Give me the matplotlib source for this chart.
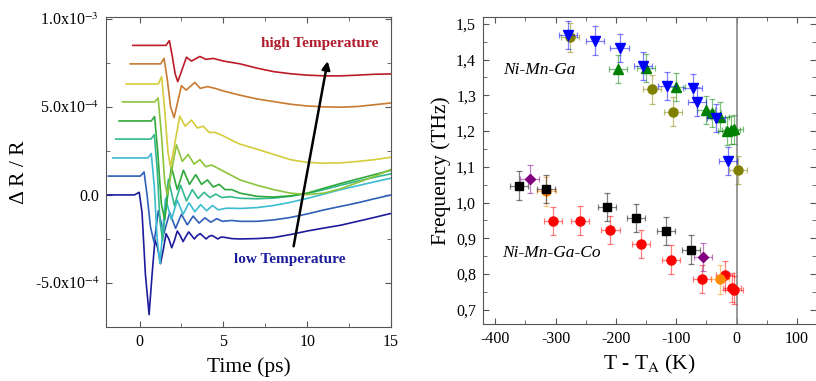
import matplotlib
matplotlib.use('Agg')
import matplotlib.pyplot as plt
from matplotlib.ticker import MultipleLocator, FixedLocator, FixedFormatter

plt.rcParams['font.family'] = ['Liberation Serif', 'DejaVu Serif']
plt.rcParams['mathtext.fontset'] = 'stix'
plt.rcParams['axes.unicode_minus'] = False

# ---- left panel: transient reflectivity traces (values in units of 1e-4) ----
trace_colors = ['#1c1c9c', '#2f5fb8', '#3cbcd0', '#34b890', '#2ea83a',
                '#8cc43c', '#d4cc3c', '#c87a30', '#bc1c28']

t_navy = [-2, -0.3, -0.02, 0.15, 0.35, 0.57, 0.75, 0.92, 1.08, 1.25, 1.42, 1.58, 1.75, 1.92,
          2.08, 2.25, 2.42, 2.6, 2.77, 2.93, 3.1, 3.27, 3.45, 3.62, 3.8, 3.97, 4.15, 4.32,
          4.5, 4.67, 4.85, 5.02, 5.5, 6, 7, 8, 9, 10, 11, 12, 13, 14, 15]
y_navy = [0, 0, 0.15, -1.0, -4.5, -6.8, -4.5, -2.55, -3.0, -3.9, -3.1, -2.2, -2.5, -3.0,
          -2.6, -2.05, -2.3, -2.65, -2.35, -2.1, -2.3, -2.5, -2.3, -2.2, -2.35, -2.5, -2.35, -2.3,
          -2.4, -2.5, -2.4, -2.4, -2.48, -2.5, -2.48, -2.42, -2.25, -2.05, -1.88, -1.72, -1.5, -1.28, -1.05]

t_blue = [-1.86, 0.05, 0.27, 0.45, 0.65, 0.87, 1.12, 1.45, 1.8, 2.15, 2.5, 2.85, 3.2, 3.55,
          3.9, 4.25, 4.6, 4.95, 5.5, 6, 7, 8, 9, 10, 11, 12, 13, 14, 15]
y_blue = [1.07, 1.07, 1.3, 0.0, -1.8, -2.7, -0.9, -2.2, -1.0, -1.9, -1.1, -1.7, -1.2, -1.6,
          -1.3, -1.55, -1.35, -1.5, -1.45, -1.5, -1.5, -1.42, -1.28, -1.08, -0.85, -0.65, -0.45, -0.22, 0.0]

t_cyan = [-1.6, 0.5, 0.7, 0.88, 1.05, 1.22, 1.55, 1.9, 2.25, 2.6, 2.95, 3.3, 3.65, 4.0,
          4.35, 4.7, 5.2, 6, 7, 8, 9, 10, 11, 12, 13, 14, 15]
y_cyan = [2.1, 2.1, 2.35, 0.5, -2.5, -3.9, -0.2, -1.4, -0.3, -1.1, -0.45, -0.95, -0.55, -0.9,
          -0.6, -0.85, -0.75, -0.77, -0.72, -0.6, -0.42, -0.2, 0.05, 0.3, 0.52, 0.74, 0.95]

t_teal = [-1.42, 0.68, 0.88, 1.05, 1.22, 1.38, 1.72, 2.08, 2.45, 2.8, 3.15, 3.5, 3.85, 4.2,
          4.55, 4.9, 5.4, 6, 7, 8, 9, 10, 11, 12, 13, 14, 15]
y_teal = [3.17, 3.17, 3.42, 1.5, -1.5, -2.6, 0.9, -0.6, 0.55, -0.35, 0.3, -0.2, 0.15, -0.15,
          0.05, -0.15, -0.1, -0.19, -0.22, -0.18, -0.08, 0.08, 0.3, 0.55, 0.78, 1.0, 1.2]

t_green = [-1.22, 0.7, 0.9, 1.08, 1.3, 1.5, 1.9, 2.25, 2.62, 2.98, 3.35, 3.7, 4.05, 4.4,
           4.75, 5.1, 5.5, 6, 7, 8, 9, 10, 11, 12, 13, 14, 15]
y_green = [4.2, 4.2, 4.45, 2.5, -0.5, -1.4, 1.6, 0.3, 1.4, 0.6, 1.15, 0.6, 0.85, 0.45,
           0.6, 0.3, 0.3, 0.1, -0.08, -0.12, -0.05, 0.1, 0.38, 0.65, 0.9, 1.15, 1.4]

t_ygreen = [-1.02, 0.9, 1.11, 1.3, 1.5, 1.65, 2.2, 2.55, 2.9, 3.25, 3.6, 3.95, 4.3, 4.8,
            5.5, 6, 7, 8, 9, 10, 11, 12, 13, 14, 15]
y_ygreen = [5.28, 5.28, 5.5, 3.5, 0.8, 0.0, 2.85, 1.9, 2.3, 1.75, 2.0, 1.6, 1.7, 1.45,
            1.1, 0.85, 0.55, 0.3, 0.1, 0.02, 0.1, 0.35, 0.7, 1.05, 1.45]

t_yellow = [-0.8, 1.12, 1.32, 1.5, 1.7, 1.85, 2.4, 2.72, 3.1, 3.45, 3.8, 4.15, 4.5, 5.0,
            5.6, 6, 7, 8, 9, 10, 11, 12, 13, 14, 15]
y_yellow = [6.3, 6.3, 6.72, 4.8, 2.4, 1.6, 4.48, 3.9, 4.25, 3.8, 3.9, 3.55, 3.55, 3.35,
            3.05, 2.88, 2.6, 2.3, 2.0, 1.85, 1.8, 1.82, 1.9, 2.0, 2.14]

t_orange = [-0.56, 1.26, 1.46, 1.65, 1.85, 2.06, 2.5, 2.78, 3.3, 3.62, 4.05, 4.5, 5.0, 5.5,
            6, 7, 8, 9, 10, 11, 12, 13, 14, 15]
y_orange = [7.44, 7.44, 7.75, 6.6, 5.0, 4.39, 6.2, 5.95, 6.39, 6.05, 6.15, 6.05, 5.9, 5.78,
            5.66, 5.45, 5.3, 5.15, 5.05, 5.0, 4.98, 5.02, 5.12, 5.22]

t_red = [-0.4, 1.58, 1.78, 1.95, 2.12, 2.28, 2.8, 3.1, 3.6, 3.95, 4.4, 5.0, 6, 7, 8, 9,
         10, 11, 12, 13, 14, 15]
y_red = [8.49, 8.49, 8.76, 7.9, 6.9, 6.43, 7.82, 7.6, 7.86, 7.7, 7.75, 7.6, 7.44, 7.2, 7.0, 6.88,
         6.8, 6.76, 6.76, 6.8, 6.85, 6.87]

traces = [(t_navy, y_navy), (t_blue, y_blue), (t_cyan, y_cyan), (t_teal, y_teal),
          (t_green, y_green), (t_ygreen, y_ygreen), (t_yellow, y_yellow),
          (t_orange, y_orange), (t_red, y_red)]

# ---- right panel: phonon frequency vs T - T_A ----
ga_tri_down_x = [-280, -234, -194, -155, -115, -73, -65, -34, -14]
ga_tri_down_y = [1.469, 1.453, 1.432, 1.382, 1.326, 1.320, 1.282, 1.236, 1.116]
ga_circ_x = [-276, -140, -105, 2]
ga_circ_y = [1.462, 1.317, 1.254, 1.091]
ga_tri_up_x = [-196, -150, -101, -51, -41, -28, -16, -10, -5]
ga_tri_up_y = [1.374, 1.376, 1.323, 1.259, 1.250, 1.240, 1.200, 1.203, 1.205]

co_sq_x = [-361, -316, -215, -166, -117, -76]
co_sq_y = [1.047, 1.038, 0.988, 0.957, 0.920, 0.868]
co_dia_x = [-343, -56]
co_dia_y = [1.066, 0.848]
co_orange_x = [-315, -28]
co_orange_y = [1.031, 0.785]
co_red_x = [-304, -259, -209, -159, -108, -58, -19, -8, -4]
co_red_y = [0.948, 0.949, 0.923, 0.884, 0.840, 0.786, 0.796, 0.762, 0.755]

x_err = 15
y_err = 0.04


def style_axes(ax):
    ax.tick_params(which='both', direction='in', top=True, right=True,
                   colors='#555555', labelcolor='black', labelsize=11.5, pad=5)
    ax.tick_params(which='major', length=4)
    ax.tick_params(which='minor', length=3)
    for s in ax.spines.values():
        s.set_color('#555555')


def draw_points(ax, xs, ys, color, marker, size):
    ax.errorbar(xs, ys, xerr=x_err, yerr=y_err, fmt='none', ecolor=color,
                elinewidth=0.9, capsize=2, capthick=0.9, alpha=0.5)
    ax.plot(xs, ys, linestyle='none', marker=marker, color=color, markersize=size)


fig = plt.figure(figsize=(8.16, 3.81), dpi=100)

ax1 = fig.add_axes([0.1299, 0.1417, 0.3493, 0.8136])
for (tt, yy), c in zip(traces, trace_colors):
    ax1.plot(tt, [v * 1e-4 for v in yy], color=c, lw=1.2)
ax1.set_xlim(-2, 15)
ax1.set_ylim(-7.5e-4, 1.01e-3)
ax1.xaxis.set_major_locator(MultipleLocator(5))
ax1.xaxis.set_minor_locator(MultipleLocator(2.5))
ax1.yaxis.set_major_locator(FixedLocator([-5e-4, 0, 5e-4, 1e-3]))
ax1.yaxis.set_major_formatter(FixedFormatter(['-5.0x10$^{-4}$', '0.0', '5.0x10$^{-4}$', '1.0x10$^{-3}$']))
ax1.yaxis.set_minor_locator(MultipleLocator(2.5e-4))
style_axes(ax1)
ax1.set_xlabel('Time (ps)', fontsize=15.5, labelpad=5)
ax1.set_ylabel('Δ R / R', fontsize=15.5, labelpad=4)
ax1.text(10.77, 8.6e-4, 'high Temperature', color='#b01c2c', fontsize=11,
         fontweight='bold', ha='center', va='center')
ax1.text(8.98, -3.65e-4, 'low Temperature', color='#1c1c9c', fontsize=11,
         fontweight='bold', ha='center', va='center')
ax1.annotate('', xy=(11.25, 7.75e-4), xytext=(9.16, -3.07e-4),
             arrowprops=dict(arrowstyle='-|>', color='black', lw=1.8, mutation_scale=12))

ax2 = fig.add_axes([0.592, 0.1496, 0.408, 0.8066])
ax2.axvline(0, color='#888888', lw=1.2)
draw_points(ax2, ga_circ_x, ga_circ_y, '#808000', 'o', 6.5)
draw_points(ax2, ga_tri_up_x, ga_tri_up_y, '#008000', '^', 6.5)
draw_points(ax2, ga_tri_down_x, ga_tri_down_y, '#0000ff', 'v', 6.5)
draw_points(ax2, co_red_x, co_red_y, '#ff0000', 'o', 6.5)
draw_points(ax2, co_orange_x, co_orange_y, '#ff8c00', 'o', 6.5)
draw_points(ax2, co_dia_x, co_dia_y, '#800080', 'D', 5)
draw_points(ax2, co_sq_x, co_sq_y, '#000000', 's', 5.5)
ax2.set_xlim(-420, 131.5)
ax2.set_ylim(0.66, 1.52)
ax2.xaxis.set_major_locator(MultipleLocator(100))
ax2.xaxis.set_minor_locator(MultipleLocator(50))
ax2.yaxis.set_major_locator(MultipleLocator(0.1))
ax2.yaxis.set_minor_locator(MultipleLocator(0.05))
ax2.yaxis.set_major_formatter(plt.FuncFormatter(lambda v, p: ('%.1f' % v).replace('.', ',')))
style_axes(ax2)
ax2.spines['right'].set_visible(False)
ax2.set_xlabel('T - T$_\\mathrm{A}$ (K)', fontsize=15.5, labelpad=4)
ax2.set_ylabel('Frequency (THz)', fontsize=15.5, labelpad=4)
ax2.text(-387, 1.37, 'Ni-Mn-Ga', fontsize=12.5, style='italic', va='center')
ax2.text(-389, 0.858, 'Ni-Mn-Ga-Co', fontsize=12.5, style='italic', va='center')

fig.savefig('out.png', dpi=100)
